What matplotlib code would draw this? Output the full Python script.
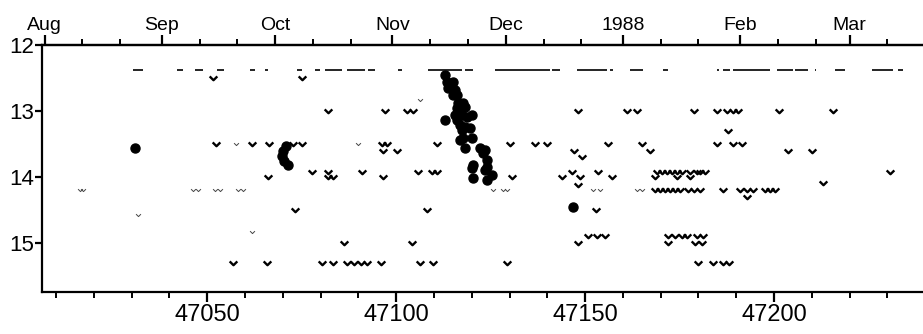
import matplotlib
matplotlib.use("Agg")
import matplotlib.pyplot as plt
from matplotlib.path import Path

plt.rcParams['font.family'] = ['Liberation Sans', 'DejaVu Sans']

# detections (JD - 2400000, visual magnitude)
det_jd = [47031.0,
          47070.9, 47070.1, 47069.8, 47070.4, 47071.4,
          47113.0, 47113.5, 47115.1, 47113.8, 47115.6, 47116.1, 47115.1,
          47116.4, 47117.7, 47116.1, 47118.3, 47113.0, 47115.6, 47117.5,
          47116.1, 47118.8, 47120.1, 47116.9, 47118.3, 47119.6, 47117.5,
          47117.7, 47120.1, 47116.9, 47118.3, 47122.2, 47123.5, 47123.0,
          47120.4, 47124.1, 47124.1, 47120.1, 47120.4, 47123.5, 47124.1,
          47125.4, 47146.8]
det_mag = [13.56,
           13.53, 13.61, 13.68, 13.76, 13.82,
           12.45, 12.56, 12.56, 12.65, 12.68, 12.76, 12.76,
           12.88, 12.88, 12.95, 12.94, 13.14, 13.06, 13.06,
           13.14, 13.09, 13.06, 13.21, 13.24, 13.26, 13.29,
           13.41, 13.41, 13.44, 13.56, 13.56, 13.59, 13.64,
           13.82, 13.74, 13.85, 13.86, 14.02, 13.89, 14.05,
           13.97, 14.45]

# "fainter than" estimates
ul_jd = [47051.6, 47075.1,
         47082.0, 47097.1, 47102.9, 47104.5, 47148.1, 47161.1, 47163.8,
         47178.8, 47184.9, 47187.6, 47189.2, 47190.5, 47201.3, 47215.6,
         47187.8,
         47052.4, 47061.9, 47066.4, 47072.8, 47075.1, 47096.3, 47097.6,
         47110.8, 47130.2, 47136.8, 47139.9, 47156.1, 47165.1, 47184.9,
         47189.2, 47191.5,
         47096.6, 47100.3, 47147.1, 47167.2, 47203.7, 47210.1,
         47149.2,
         47077.8, 47082.0, 47091.0, 47105.8, 47109.5, 47110.8, 47146.6,
         47153.4, 47169.0, 47170.4, 47171.7, 47173.0, 47174.3, 47175.7,
         47177.8, 47179.6, 47180.4, 47181.7, 47230.7,
         47066.1, 47082.0, 47083.3, 47096.6, 47130.7, 47143.9, 47148.7,
         47157.1, 47168.5, 47174.3, 47177.8,
         47148.1, 47213.0,
         47168.5, 47169.8, 47171.2, 47172.5, 47173.8, 47175.1, 47177.2,
         47178.8, 47180.4, 47186.5, 47191.0, 47192.9, 47194.4, 47197.6,
         47198.9, 47200.3,
         47192.9,
         47073.3, 47108.2, 47152.9,
         47150.8, 47153.2, 47155.3, 47172.0, 47173.8, 47175.7, 47177.0,
         47179.6, 47181.2,
         47086.2, 47104.2, 47148.1, 47172.0, 47179.1, 47181.0,
         47056.9, 47065.9, 47080.4, 47083.3, 47087.0, 47088.9, 47090.7,
         47092.3, 47096.0, 47106.3, 47109.8, 47129.4, 47179.9, 47183.9,
         47186.5, 47188.1]
ul_mag = [12.5, 12.5] + [13.0] * 14 + [13.3] + [13.5] * 16 + [13.6] * 6 + [13.7] \
    + [13.92] * 19 + [14.0] * 11 + [14.12, 14.09] + [14.2] * 16 + [14.3] \
    + [14.5] * 3 + [14.9] * 9 + [15.0] * 6 + [15.3] * 16

# faint marks
faint_jd = [47016.4, 47017.2, 47046.3, 47047.6, 47052.1, 47053.4, 47058.2,
            47059.5, 47125.7, 47128.3, 47129.4, 47152.1, 47154.0, 47163.8,
            47165.1, 47057.7, 47089.9, 47106.3, 47031.7, 47061.9]
faint_mag = [14.2] * 15 + [13.5, 13.5, 12.83, 14.58, 14.83]

# short bars near the top
bar_start = [47030.4, 47042.1, 47046.8, 47052.6, 47061.4, 47065.3, 47073.8,
             47078.6, 47081.2, 47087.0, 47092.6, 47100.5, 47108.5, 47118.3,
             47126.2, 47141.3, 47147.9, 47156.6, 47161.9, 47170.6, 47184.9,
             47186.5, 47189.2, 47200.8, 47205.6, 47210.8, 47216.1, 47225.9,
             47232.8]
bar_end = [47033.1, 47043.7, 47048.9, 47054.5, 47062.7, 47066.1, 47075.1,
           47079.9, 47085.7, 47091.8, 47094.4, 47101.6, 47117.5, 47120.4,
           47140.7, 47143.4, 47155.8, 47157.4, 47165.3, 47172.0, 47185.4,
           47188.4, 47198.9, 47205.0, 47209.0, 47211.2, 47218.8, 47231.5,
           47234.1]

month_pos = [47007, 47038, 47068, 47099, 47129, 47160, 47191, 47220]
month_lab = ['Aug', 'Sep', 'Oct', 'Nov', 'Dec', '1988', 'Feb', 'Mar']

chevron = Path([(-1.0, 0.55), (0.0, -0.45), (1.0, 0.55)],
               [Path.MOVETO, Path.LINETO, Path.LINETO])

fig = plt.figure(figsize=(9.23, 3.34), dpi=100)
ax = fig.add_axes([0.0455, 0.126, 0.9545, 0.739])

ax.hlines([12.38] * len(bar_start), bar_start, bar_end, color='black', lw=1.2)
ax.plot(faint_jd, faint_mag, ls='none', marker=chevron, ms=3.5, mew=0.7,
        mfc='none', mec='#444444')
ax.plot(ul_jd, ul_mag, ls='none', marker=chevron, ms=5.5, mew=1.7,
        mfc='none', mec='black')
ax.plot(det_jd, det_mag, ls='none', marker='o', ms=6.5, color='black')

ax.set_xlim(47006.3, 47239.4)
ax.set_ylim(15.74, 12.0)
ax.set_xticks([47050, 47100, 47150, 47200])
ax.set_xticks(range(47010, 47240, 10), minor=True)
ax.set_yticks([12, 13, 14, 15])
ax.set_yticklabels(['12', '13', '14', '15'])

for s in ['left', 'bottom', 'top']:
    ax.spines[s].set_linewidth(1.6)
ax.spines['right'].set_visible(False)
ax.tick_params(axis='x', which='major', length=7, width=1.6, labelsize=17, pad=2)
ax.tick_params(axis='x', which='minor', length=4, width=1.4)
ax.tick_params(axis='y', which='major', length=5, width=1.6, labelsize=16, pad=1)

top = ax.secondary_xaxis('top')
top.set_xticks(month_pos)
top.set_xticklabels(month_lab)
minor_top = [m + d for m in month_pos for d in (10, 20)]
top.set_xticks([t for t in minor_top if t < 47239], minor=True)
top.tick_params(axis='x', which='major', length=7, width=1.6, labelsize=14, pad=1)
top.tick_params(axis='x', which='minor', length=4, width=1.4)
top.spines['top'].set_linewidth(1.6)

fig.savefig('out.png', dpi=100)
